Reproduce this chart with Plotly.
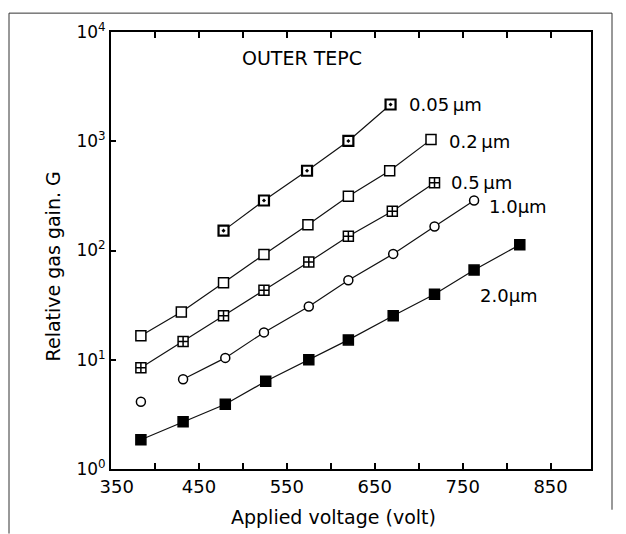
import plotly.graph_objects as go

# ---- data ----
v_005 = [478, 524, 573, 620, 668]
g_005 = [152, 287, 537, 1006, 2170]

v_02 = [384, 430, 478, 524, 574, 620, 667, 714]
g_02 = [16.6, 27.3, 50.7, 92, 172, 314, 537, 1035]

v_05 = [384, 432, 478, 524, 575, 620, 670, 718]
g_05 = [8.46, 14.7, 25.3, 43.3, 78.3, 135, 229, 418]

v_10_single = [384]
g_10_single = [4.12]
v_10 = [432, 480, 524, 575, 620, 671, 718, 763]
g_10 = [6.62, 10.4, 17.8, 30.7, 53.4, 93.1, 166, 287]

v_20 = [384, 432, 480, 526, 575, 620, 671, 718, 763, 815]
g_20 = [1.85, 2.71, 3.92, 6.35, 10, 15.2, 25.3, 39.8, 66.2, 113]

x_tickvals = [350, 400, 450, 500, 550, 600, 650, 700, 750, 800, 850]
x_ticktext = ["\u00a0\u00a0350", "", "450", "", "550", "", "650", "", "750", "", "850"]
y_tickvals = [1, 10, 100, 1000, 10000]
y_ticktext = ["10<sup>0</sup>", "10<sup>1</sup>", "10<sup>2</sup>", "10<sup>3</sup>", "10<sup>4</sup>"]

series_labels = ["0.05\u2009\u00b5m", "0.2\u2009\u00b5m", "0.5\u2009\u00b5m", "1.0\u00b5m", "2.0\u00b5m"]

FONT = "DejaVu Sans"
fig = go.Figure()

def add(x, y, symbol, size, fill, mode="lines+markers", lw=1.5):
    fig.add_trace(go.Scatter(
        x=x, y=y, mode=mode,
        line=dict(color="#111", width=1.2),
        marker=dict(symbol=symbol, size=size, color=fill,
                    line=dict(color="black", width=lw)),
        showlegend=False, cliponaxis=False))

add(v_005, g_005, "square-dot", 10, "white", lw=2.2)
add(v_02, g_02, "square", 10, "white")
add(v_05, g_05, "square-cross", 10, "white")
add(v_10_single, g_10_single, "circle", 9, "white", mode="markers")
add(v_10, g_10, "circle", 9, "white")
add(v_20, g_20, "square", 10, "black")

# label placement (volts, log10 gain)
label_pos = [(687, 3.338), (732, 3.0), (735, 2.621), (778, 2.403), (767, 1.585)]
for (lx, ly), t in zip(label_pos, series_labels):
    fig.add_annotation(x=lx, y=ly, text=t, showarrow=False,
                       xanchor="left", yanchor="middle",
                       font=dict(family=FONT, size=18, color="black"))

fig.add_annotation(x=497, y=3.76, text="OUTER TEPC", showarrow=False,
                   xanchor="left", yanchor="middle",
                   font=dict(family=FONT, size=19, color="black"))

# page pixel -> paper coords (plot area spans x 111..591, y 29..469 on the page)
def px(xp):
    return (xp - 111) / 480
def py(yp):
    return (469 - yp) / 440

# axis titles
fig.add_annotation(x=px(333), y=py(530), xref="paper", yref="paper",
                   text="Applied voltage (volt)", showarrow=False,
                   font=dict(family=FONT, size=19, color="black"))
fig.add_annotation(x=px(40), y=py(265), xref="paper", yref="paper",
                   text="Relative gas gain. G", showarrow=False, textangle=-90,
                   font=dict(family=FONT, size=19, color="black"))

# outer frame lines
line = dict(color="#333", width=1)
fig.add_shape(type="line", xref="paper", yref="paper", x0=px(9), x1=px(612), y0=py(10), y1=py(10), line=line)
fig.add_shape(type="line", xref="paper", yref="paper", x0=px(9), x1=px(9), y0=py(10), y1=py(534), line=line)
fig.add_shape(type="line", xref="paper", yref="paper", x0=px(612), x1=px(612), y0=py(10), y1=py(510), line=line)

# the page body has an 8px default margin, so the figure is sized/margined to compensate
fig.update_layout(
    width=618, height=526,
    margin=dict(l=103, r=35, t=21, b=65),
    paper_bgcolor="white", plot_bgcolor="white",
    font=dict(family=FONT, size=16, color="black"),
    xaxis=dict(range=[350, 896], tickvals=x_tickvals, ticktext=x_ticktext,
               ticks="inside", ticklen=6, tickwidth=1.5, tickcolor="black",
               showline=True, linecolor="black", linewidth=2, mirror="allticks",
               showgrid=False, zeroline=False,
               tickfont=dict(family=FONT, size=18, color="black")),
    yaxis=dict(type="log", range=[0, 4], tickvals=y_tickvals, ticktext=y_ticktext,
               ticks="inside", ticklen=5, tickwidth=1.5, tickcolor="black",
               showline=True, linecolor="black", linewidth=2, mirror=True,
               showgrid=False, zeroline=False,
               tickfont=dict(family=FONT, size=17, color="black")),
)

fig.write_html("out.html")
